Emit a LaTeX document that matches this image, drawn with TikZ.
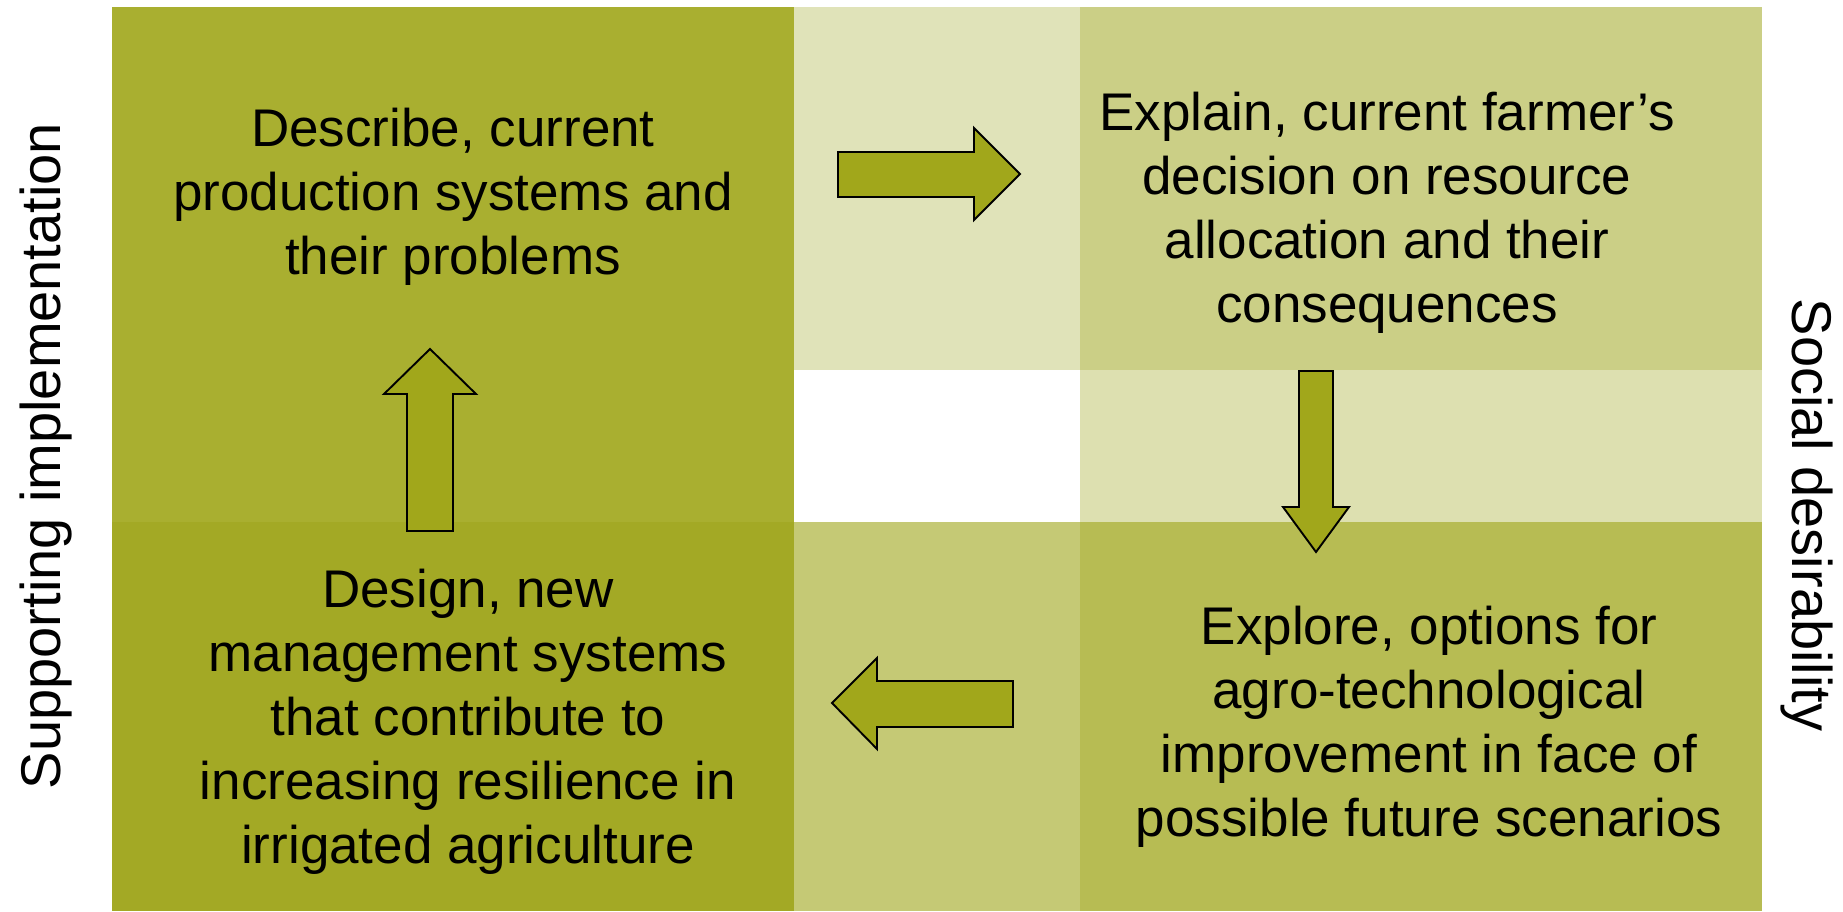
\documentclass[tikz,border=0pt]{standalone}
\usepackage{fontspec}
\setmainfont{Liberation Sans}
\definecolor{cTL}{HTML}{A9AF30}
\definecolor{cBL}{HTML}{A3A925}
\definecolor{cTM}{HTML}{E0E3B9}
\definecolor{cTR}{HTML}{CBCF86}
\definecolor{cMR}{HTML}{DDE0B0}
\definecolor{cBM}{HTML}{C5C975}
\definecolor{cBR}{HTML}{B7BC53}
\definecolor{arrowfill}{HTML}{A1A71B}
\tikzset{
  panel/.style={draw=none},
  blockarrow/.style={fill=arrowfill,draw=black,line width=1.9pt,line join=miter},
  maintext/.style={align=center,inner sep=0pt,font=\fontsize{53}{64}\selectfont},
  sidetext/.style={inner sep=0pt,font=\fontsize{56}{64}\selectfont,anchor=base}
}
\begin{document}
\begin{tikzpicture}[x=1pt,y=-1pt]
\useasboundingbox (0,0) rectangle (1843,912);
% panels
\fill[cTL] (112,7) rectangle (794,522);
\fill[cTM] (794,7) rectangle (1080,370);
\fill[cTR] (1080,7) rectangle (1762,370);
\fill[cMR] (1080,370) rectangle (1762,522);
\fill[cBL] (112,522) rectangle (794,911);
\fill[cBM] (794,522) rectangle (1080,911);
\fill[cBR] (1080,522) rectangle (1762,911);
% texts
\node[maintext] (describe) at (453,197) {Describe, current\\production systems and\\their problems};
\node[maintext] (explain) at (1387,213) {Explain, current farmer’s\\decision on resource\\allocation and their\\consequences};
\node[maintext] (explore) at (1429,727) {Explore, options for\\agro-technological\\improvement in face of\\possible future scenarios};
\node[maintext] (design) at (468,722) {Design, new\\management systems\\that contribute to\\increasing resilience in\\irrigated agriculture};
\node[sidetext,rotate=90] (support) at (60,456) {Supporting implementation};
\node[sidetext,rotate=-90] (social) at (1792,515) {Social desirability};
% block arrows
\draw[blockarrow] (838,152) -- (974,152) -- (974,128) -- (1020,174) -- (974,220) -- (974,197) -- (838,197) -- cycle;
\draw[blockarrow] (1299,371) -- (1333,371) -- (1333,507) -- (1349,507) -- (1316,552) -- (1283,507) -- (1299,507) -- cycle;
\draw[blockarrow] (1013,681) -- (877,681) -- (877,658) -- (832,703) -- (877,749) -- (877,727) -- (1013,727) -- cycle;
\draw[blockarrow] (407,531) -- (407,394) -- (384,394) -- (430,349) -- (476,394) -- (453,394) -- (453,531) -- cycle;
\end{tikzpicture}
\end{document}
